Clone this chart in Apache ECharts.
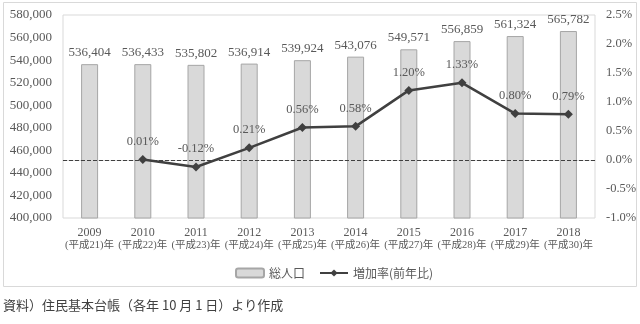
<!DOCTYPE html>
<html><head><meta charset="utf-8">
<script src="https://cdn.jsdelivr.net/npm/echarts@6/dist/echarts.min.js"></script>
<style>html,body{margin:0;padding:0;background:#fff}#c{width:640px;height:324px}</style>
</head><body><div id="c"></div>
<script>
const years = ['2009','2010','2011','2012','2013','2014','2015','2016','2017','2018'];
const eras = ['(平成21)年','(平成22)年','(平成23)年','(平成24)年','(平成25)年','(平成26)年','(平成27)年','(平成28)年','(平成29)年','(平成30)年'];
const population = [536404, 536433, 535802, 536914, 539924, 543076, 549571, 556859, 561324, 565782];
const growthRate = [null, 0.01, -0.12, 0.21, 0.56, 0.58, 1.20, 1.33, 0.80, 0.79];
const seriesNames = ['総人口', '増加率(前年比)'];
const sourceNote = '資料）住民基本台帳（各年 10 月 1 日）より作成';

const FF = "'Liberation Serif', 'Noto Sans CJK JP', serif";
const categories = years.map((y, i) => y + '\n' + eras[i]);
const chart = echarts.init(document.getElementById('c'));
chart.setOption({
  animation: false,
  textStyle: { fontFamily: FF, color: '#595959' },
  graphic: [
    { type: 'rect', shape: { x: 3.5, y: 2.5, width: 633, height: 284 }, style: { fill: 'none', stroke: '#d9d9d9', lineWidth: 1 }, z: -1 },
    { type: 'text', left: 3, top: 299, style: { text: sourceNote, font: "13px 'Noto Sans CJK JP'", fill: '#404040' } }
  ],
  grid: { left: 63, right: 45, top: 15, bottom: 106, show: true, borderColor: '#d9d9d9', borderWidth: 1 },
  legend: {
    left: 230, top: 262, itemGap: 14, itemWidth: 28, itemHeight: 9,
    textStyle: { fontFamily: "'Noto Sans CJK JP'", fontSize: 12, color: '#595959' },
    data: [
      { name: seriesNames[0] },
      { name: seriesNames[1] }
    ]
  },
  xAxis: {
    type: 'category', data: categories,
    axisLine: { lineStyle: { color: '#d9d9d9' } }, axisTick: { show: false },
    axisLabel: {
      interval: 0, margin: 8,
      formatter: v => { const p = v.split('\n'); return '{a|' + p[0] + '}\n{b|' + p[1] + '}'; },
      rich: {
        a: { fontFamily: FF, fontSize: 12, color: '#595959', lineHeight: 13 },
        b: { fontFamily: FF, fontSize: 10.5, color: '#595959', lineHeight: 13 }
      }
    }
  },
  yAxis: [
    {
      type: 'value', min: 400000, max: 580000, interval: 20000,
      axisLine: { show: false }, axisTick: { show: false }, splitLine: { show: false },
      axisLabel: { fontSize: 13, color: '#595959', margin: 11, formatter: v => v.toLocaleString('en-US') }
    },
    {
      type: 'value', min: -1, max: 2.5, interval: 0.5,
      axisLine: { show: false }, axisTick: { show: false }, splitLine: { show: false },
      axisLabel: { fontSize: 12.5, color: '#595959', margin: 11, formatter: v => v.toFixed(1) + '%' }
    }
  ],
  series: [
    {
      name: seriesNames[0], type: 'bar', data: population, barWidth: 17, yAxisIndex: 0,
      itemStyle: { color: '#d9d9d9', borderColor: '#a6a6a6', borderWidth: 1 },
      label: { show: true, position: 'top', distance: 5, fontSize: 13, color: '#595959', fontFamily: FF, formatter: p => p.value.toLocaleString('en-US') }
    },
    {
      name: seriesNames[1], type: 'line', data: growthRate, yAxisIndex: 1,
      symbol: 'diamond', symbolSize: 9, connectNulls: false,
      lineStyle: { color: '#404040', width: 2.5 }, itemStyle: { color: '#404040' },
      label: { show: true, position: 'top', distance: 7, fontSize: 12.5, color: '#595959', fontFamily: FF, formatter: p => p.value.toFixed(2) + '%' },
      markLine: {
        silent: true, symbol: 'none', label: { show: false },
        lineStyle: { color: '#404040', type: 'dashed', width: 1 },
        data: [{ yAxis: 0 }]
      },
      z: 5
    }
  ]
});
</script></body></html>
